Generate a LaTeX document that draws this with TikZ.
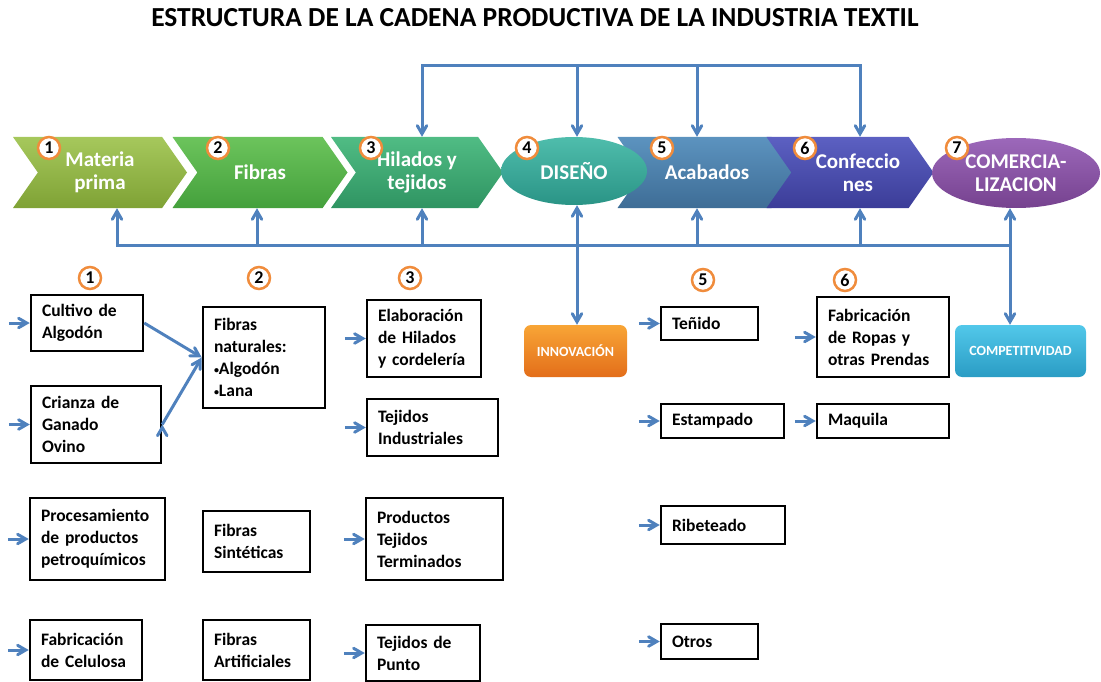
\documentclass[tikz,border=0pt]{standalone}
\usepackage{fontspec}
\setmainfont{Carlito}
\usetikzlibrary{arrows,shapes.symbols,shapes.geometric}

\definecolor{azul}{HTML}{4F81BD}
\definecolor{naranja}{HTML}{F08C3C}
\definecolor{v1t}{HTML}{A6C85C}\definecolor{v1b}{HTML}{7FA235}
\definecolor{v2t}{HTML}{6CC45C}\definecolor{v2b}{HTML}{44A03C}
\definecolor{v3t}{HTML}{50BC84}\definecolor{v3b}{HTML}{2F9462}
\definecolor{v4t}{HTML}{4FBDAC}\definecolor{v4b}{HTML}{2A9486}
\definecolor{v5t}{HTML}{5C93BF}\definecolor{v5b}{HTML}{3E6D96}
\definecolor{v6t}{HTML}{5C60C2}\definecolor{v6b}{HTML}{3B3D98}
\definecolor{v7t}{HTML}{9C68BA}\definecolor{v7b}{HTML}{76428F}
\definecolor{innovt}{HTML}{F8A536}\definecolor{innovb}{HTML}{E36E1A}
\definecolor{compt}{HTML}{52C8EA}\definecolor{compb}{HTML}{2A9CC4}

\newcommand{\punto}{{\fontsize{10}{10}\selectfont\raisebox{1.5pt}{•}}}

\begin{document}
\begin{tikzpicture}[x=1pt, y=-1pt, >=angle 60,
    flecha/.style={draw=azul, line width=3pt, ->},
    eslabon/.style={signal, signal from=west, signal to=east, signal pointer angle=110,
        minimum height=71pt, inner sep=0pt, text=white, align=center,
        font=\bfseries\fontsize{21}{23}\selectfont},
    ovalo/.style={ellipse, inner sep=0pt, text=white, align=center,
        font=\bfseries\fontsize{21}{23}\selectfont},
    num/.style={circle, draw=naranja, line width=2.5pt, fill=white, inner sep=0pt,
        minimum size=22pt, font=\bfseries\fontsize{18}{18}\selectfont},
    caja/.style={draw, line width=2.5pt, fill=white, align=left, inner xsep=11pt,
        text width=#1, font=\bfseries\fontsize{17.5}{22}\selectfont},
    etiqueta/.style={rounded corners=7pt, minimum width=#1, minimum height=52pt,
        text=white, font=\bfseries\fontsize{14}{14}\selectfont}]

  \useasboundingbox (0,0) rectangle (1101,682);

  \node (titulo) at (535,18) {\bfseries\fontsize{27.5}{27.5}\selectfont ESTRUCTURA DE LA CADENA PRODUCTIVA DE LA INDUSTRIA TEXTIL};

  % cadena
  \node[eslabon, minimum width=174pt, top color=v1t, bottom color=v1b] (c1) at (100,172.5) {Materia\\prima};
  \node[eslabon, minimum width=175pt, top color=v2t, bottom color=v2b] (c2) at (260,172.5) {Fibras};
  \node[eslabon, minimum width=172pt, top color=v3t, bottom color=v3b] (c3) at (417,172.5) {Hilados y\\tejidos};
  \node[eslabon, minimum width=179pt, top color=v5t, bottom color=v5b] (c5) at (707,172.5) {Acabados};
  \node[eslabon, minimum width=167pt, top color=v6t, bottom color=v6b] (c6) at (850,172.5) {\hspace*{16pt}Confeccio\\\hspace*{16pt}nes};
  \node[ovalo, minimum width=146pt, minimum height=68pt, top color=v4t, bottom color=v4b] (c4) at (574,171) {DISEÑO};
  \node[ovalo, minimum width=168pt, minimum height=70pt, top color=v7t, bottom color=v7b] (c7) at (1016,173) {COMERCIA-\\LIZACION};

  \node[num] (n1) at (49,148) {1};
  \node[num] (n2) at (218,148) {2};
  \node[num] (n3) at (371,148) {3};
  \node[num] (n4) at (527,148) {4};
  \node[num] (n5) at (662,148) {5};
  \node[num] (n6) at (805,148) {6};
  \node[num] (n7) at (957,148) {7};

  \node[etiqueta=103pt, top color=innovt, bottom color=innovb] (innov) at (575.5,351) {INNOVACIÓN};
  \node[etiqueta=131pt, top color=compt, bottom color=compb] (compet) at (1020.5,351) {COMPETITIVIDAD};

  % retroalimentacion
  \foreach \c/\x in {3/422,4/577,5/697,6/860}
    \coordinate (t\c) at (\x,66);
  \draw[azul, line width=3pt, line cap=rect] (t3) -- (t6);
  \foreach \c in {3,4,5,6}
    \draw[flecha] (t\c) -- (t\c |- c\c.north);

  \foreach \c/\x in {1/117,2/257,3/422,4/577,5/697,6/860,7/1010}
    \coordinate (r\c) at (\x,245);
  \draw[azul, line width=3pt, line cap=rect] (r1) -- (r7);
  \foreach \c in {1,2,3,5,6}
    \draw[flecha] (r\c) -- (r\c |- c\c.south);
  \draw[flecha, <->] (r4 |- c4.south) -- (r4 |- innov.north);
  \draw[flecha, <->] (r7 |- c7.south) -- (r7 |- compet.north);

  % eslabones en detalle
  \node[num] (m1) at (90,278) {1};
  \node[num] (m2) at (259,278) {2};
  \node[num] (m3) at (410,278) {3};
  \node[num] (m5) at (703,280) {5};
  \node[num] (m6) at (845,280) {6};

  \node[caja=90pt, minimum height=56pt]  (cult)  at (87,323)     {Cultivo de\\Algodón};
  \node[caja=108pt, minimum height=77pt] (crian) at (96,424.5)   {Crianza de\\Ganado\\Ovino};
  \node[caja=113pt, minimum height=82pt] (proc)  at (97.5,539)   {Procesamiento\\de productos\\petroquímicos};
  \node[caja=90pt, minimum height=60pt]  (celu)  at (86,650)     {Fabricación\\de Celulosa};

  \node[caja=100pt, minimum height=101pt] (fnat) at (264,357.5)  {Fibras\\naturales:\\\punto Algodón\\\punto Lana};
  \node[caja=85pt, minimum height=61pt]  (fsint) at (256.5,541.5) {Fibras\\Sintéticas};
  \node[caja=85pt, minimum height=60pt]  (fart)  at (256.5,650)  {Fibras\\Artificiales};

  \node[caja=92pt, minimum height=77pt]  (elab)  at (424,338.5)  {Elaboración\\de Hilados\\y cordelería};
  \node[caja=109pt, minimum height=57pt] (tind)  at (432.5,427.5) {Tejidos\\Industriales};
  \node[caja=115pt, minimum height=82pt] (prod)  at (434.5,539)  {Productos\\Tejidos\\Terminados};
  \node[caja=92pt, minimum height=56pt]  (punto) at (423,653)    {Tejidos de\\Punto};

  \node[caja=75pt, minimum height=33pt]  (tenido) at (709.5,323.5) {Teñido};
  \node[caja=101pt, minimum height=34pt] (estamp) at (722.5,421)  {Estampado};
  \node[caja=102pt, minimum height=38pt] (ribet)  at (723,525)    {Ribeteado};
  \node[caja=75pt, minimum height=35pt]  (otros)  at (709.5,641.5) {Otros};

  \node[caja=110pt, minimum height=80pt] (ropas)   at (883,337) {Fabricación\\de Ropas y\\otras Prendas};
  \node[caja=110pt, minimum height=34pt] (maquila) at (883,421) {Maquila};

  \foreach \b in {cult,crian,proc,celu,elab,tind,prod,punto,tenido,estamp,ribet,otros,ropas,maquila}{
    \coordinate (\b-in) at ([xshift=-21pt]\b.west);
    \draw[flecha] (\b-in) -- (\b.west);
  }
  \path[flecha] (cult.east) edge (fnat.west)
                (crian.east) edge (fnat.west);

\end{tikzpicture}
\end{document}
